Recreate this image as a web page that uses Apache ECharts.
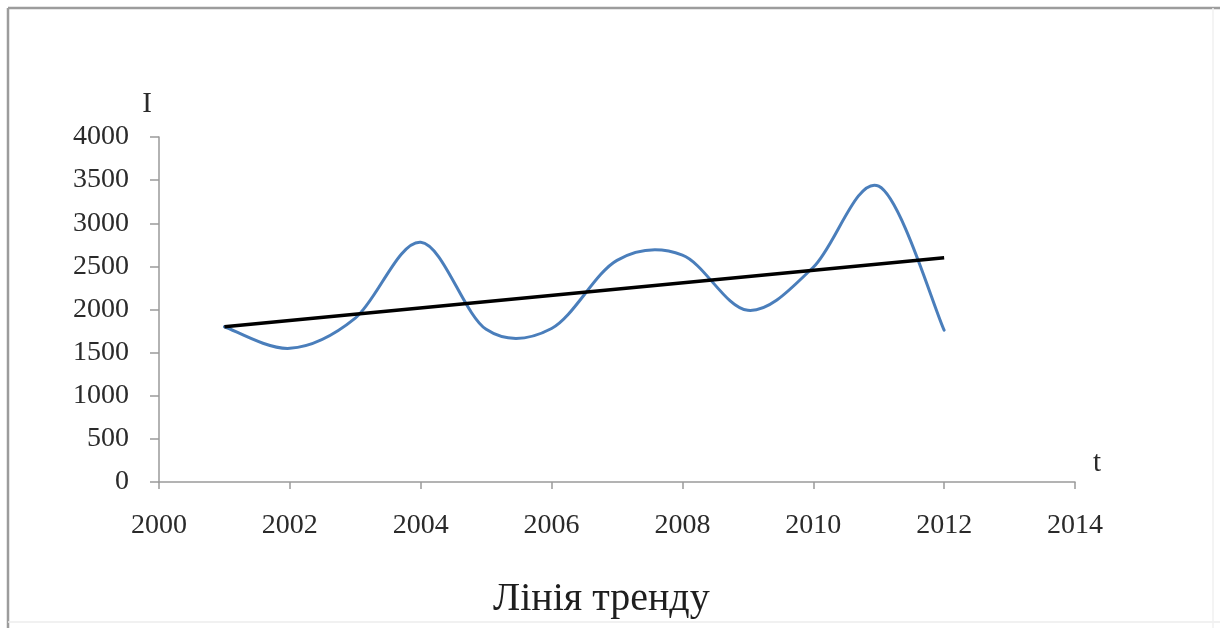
<!DOCTYPE html>
<html>
<head>
<meta charset="utf-8">
<script src="https://cdn.jsdelivr.net/npm/echarts@6/dist/echarts.min.js"></script>
<style>
  html, body { margin: 0; padding: 0; background: #ffffff; }
  #chart { width: 1220px; height: 628px; }
</style>
</head>
<body>
<div id="chart"></div>
<script>
// Years of observation and the observed index I
const years = [2001, 2002, 2003, 2004, 2005, 2006, 2007, 2008, 2009, 2010, 2011, 2012];
const indexValues = [1800, 1550, 1900, 2780, 1770, 1780, 2570, 2630, 1990, 2490, 3430, 1760];

// Linear trend: start and end of the fitted line
const trendYears = [2001, 2012];
const trendValues = [1800, 2600];

// Axis ticks
const xTicks = [2000, 2002, 2004, 2006, 2008, 2010, 2012, 2014];
const yTicks = [0, 500, 1000, 1500, 2000, 2500, 3000, 3500, 4000];

const chartTitle = 'Лінія тренду';
const yName = 'I';
const xName = 't';

const serif = '"Liberation Serif", "DejaVu Serif", serif';
const textColor = '#2a2a2a';
const axisColor = '#9a9a9a';

const chart = echarts.init(document.getElementById('chart'), null, { renderer: 'canvas' });

// Smooth curve through all data points (Catmull-Rom style Bezier segments),
// positioned with the grid's own coordinate system.
function renderSmoothLine(params, api) {
  if (params.dataIndex !== 0) return null;
  const pts = years.map((y, i) => api.coord([y, indexValues[i]]));
  const n = pts.length;
  let d = 'M' + pts[0][0] + ' ' + pts[0][1];
  for (let i = 0; i < n - 1; i++) {
    const p0 = pts[Math.max(i - 1, 0)];
    const p1 = pts[i];
    const p2 = pts[i + 1];
    const p3 = pts[Math.min(i + 2, n - 1)];
    const c1x = p1[0] + (p2[0] - p0[0]) / 6;
    const c1y = p1[1] + (p2[1] - p0[1]) / 6;
    const c2x = p2[0] - (p3[0] - p1[0]) / 6;
    const c2y = p2[1] - (p3[1] - p1[1]) / 6;
    d += ' C' + c1x + ' ' + c1y + ' ' + c2x + ' ' + c2y + ' ' + p2[0] + ' ' + p2[1];
  }
  return {
    type: 'path',
    shape: { pathData: d },
    style: { fill: 'none', stroke: '#4a7ebb', lineWidth: 3, lineJoin: 'round', lineCap: 'round' }
  };
}

const option = {
  backgroundColor: '#ffffff',
  animation: false,
  title: {
    text: chartTitle,
    left: 488,
    top: 574,
    textStyle: { fontFamily: serif, fontSize: 40, fontWeight: 'normal', color: '#1e1e1e' }
  },
  grid: { left: 159, right: 145, top: 137, bottom: 146, containLabel: false },
  xAxis: {
    type: 'value',
    min: xTicks[0],
    max: xTicks[xTicks.length - 1],
    interval: xTicks[1] - xTicks[0],
    name: xName,
    nameLocation: 'end',
    nameGap: 18,
    nameTextStyle: { fontFamily: serif, fontSize: 29, color: textColor, verticalAlign: 'bottom', padding: [0, 0, 4, 0] },
    axisLine: { show: true, onZero: false, lineStyle: { color: axisColor, width: 1.5 } },
    axisTick: { show: true, inside: false, length: 7, lineStyle: { color: axisColor, width: 1.5 } },
    axisLabel: { fontFamily: serif, fontSize: 28, color: textColor, margin: 30, formatter: v => String(v) },
    splitLine: { show: false }
  },
  yAxis: {
    type: 'value',
    min: yTicks[0],
    max: yTicks[yTicks.length - 1],
    interval: yTicks[1] - yTicks[0],
    name: yName,
    nameLocation: 'end',
    nameGap: 18,
    nameTextStyle: { fontFamily: serif, fontSize: 29, color: textColor, align: 'center', padding: [0, 24, 0, 0] },
    axisLine: { show: true, lineStyle: { color: axisColor, width: 1.5 } },
    axisTick: { show: true, inside: false, length: 9, lineStyle: { color: axisColor, width: 1.5 } },
    axisLabel: { fontFamily: serif, fontSize: 28, color: textColor, margin: 30, formatter: v => String(v) },
    splitLine: { show: false }
  },
  series: [
    {
      name: 'I',
      type: 'custom',
      coordinateSystem: 'cartesian2d',
      data: years.map((y, i) => [y, indexValues[i]]),
      renderItem: renderSmoothLine,
      z: 2
    },
    {
      name: chartTitle,
      type: 'line',
      data: trendYears.map((y, i) => [y, trendValues[i]]),
      showSymbol: false,
      symbol: 'none',
      lineStyle: { color: '#000000', width: 3.5 },
      z: 3
    }
  ],
  graphic: [
    // frame around the chart area
    { type: 'line', shape: { x1: 8, y1: 8, x2: 1220, y2: 8 }, style: { stroke: '#9c9c9c', lineWidth: 2.5 } },
    { type: 'line', shape: { x1: 8, y1: 8, x2: 8, y2: 628 }, style: { stroke: '#9c9c9c', lineWidth: 2.5 } },
    { type: 'line', shape: { x1: 8, y1: 622, x2: 1220, y2: 622 }, style: { stroke: '#ececec', lineWidth: 1.5 } },
    { type: 'line', shape: { x1: 1213, y1: 8, x2: 1213, y2: 628 }, style: { stroke: '#f0f0f0', lineWidth: 1.5 } }
  ]
};

chart.setOption(option);
</script>
</body>
</html>
